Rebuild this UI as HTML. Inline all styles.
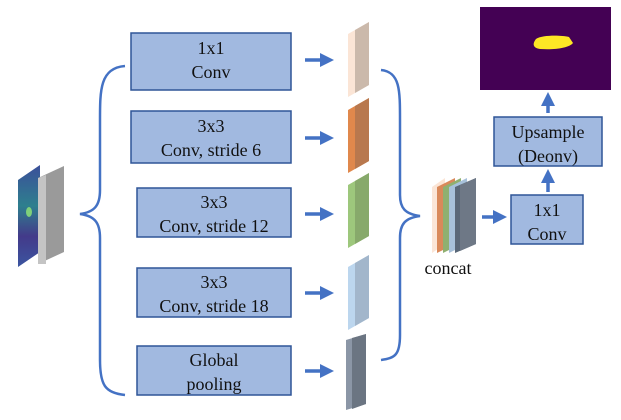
<!DOCTYPE html>
<html><head><meta charset="utf-8"><style>
html,body{margin:0;padding:0;background:#fff;width:621px;height:420px;overflow:hidden}
</style></head><body>
<svg width="621" height="420" viewBox="0 0 621 420" xmlns="http://www.w3.org/2000/svg" font-family="'Liberation Serif', 'DejaVu Serif', serif" font-size="18">
<defs>
<marker id="ah" markerWidth="4" markerHeight="4" refX="2" refY="2" orient="auto" markerUnits="strokeWidth">
<path d="M0,0 L4,2 L0,4 z" fill="#4472c4"/></marker>
<linearGradient id="fm" x1="0" y1="0" x2="0" y2="1">
<stop offset="0" stop-color="#3b4f9a"/><stop offset="0.4" stop-color="#2e7f8e"/><stop offset="0.7" stop-color="#433a8a"/><stop offset="1" stop-color="#3b55a0"/></linearGradient>
</defs>
<polygon points="18,180 40,165 40,252 18,267" fill="url(#fm)"/>
<ellipse cx="29" cy="212" rx="3" ry="5" fill="#7fd07a"/>
<polygon points="38,178 64,166 64,252 38,264" fill="#9a9a9a"/>
<polygon points="38,178 46,175 46,264 38,264" fill="#c4c4c4"/>
<path d="M125,66 C100,68 100,90 100,120 L100,190 C100,205 95,212 80,214 C95,216 100,223 100,238 L100,360 C100,385 105,393 125,395" fill="none" stroke="#4472c4" stroke-width="2.5"/>
<g fill="#a1b9e0" stroke="#2f5597" stroke-width="1.5">
<rect x="131" y="33" width="160" height="57"/>
<rect x="131" y="111" width="160" height="52"/>
<rect x="137" y="188" width="154" height="49"/>
<rect x="137" y="268" width="154" height="49"/>
<rect x="137" y="346" width="154" height="49"/>
<rect x="511" y="195" width="72" height="49"/>
<rect x="494" y="117" width="108" height="49"/>
</g>
<g fill="#111" font-family="'Liberation Serif', serif" font-size="18">
<text x="211" y="54" text-anchor="middle">1x1</text>
<text x="211" y="78" text-anchor="middle">Conv</text>
<text x="211" y="132" text-anchor="middle">3x3</text>
<text x="211" y="156" text-anchor="middle">Conv, stride 6</text>
<text x="214" y="208" text-anchor="middle">3x3</text>
<text x="214" y="232" text-anchor="middle">Conv, stride 12</text>
<text x="214" y="288" text-anchor="middle">3x3</text>
<text x="214" y="312" text-anchor="middle">Conv, stride 18</text>
<text x="214" y="366" text-anchor="middle">Global</text>
<text x="214" y="390" text-anchor="middle">pooling</text>
<text x="547" y="216" text-anchor="middle">1x1</text>
<text x="547" y="240" text-anchor="middle">Conv</text>
<text x="548" y="138" text-anchor="middle">Upsample</text>
<text x="548" y="162" text-anchor="middle">(Deonv)</text>
<text x="448" y="274" text-anchor="middle">concat</text>
</g>
<g stroke="#4472c4" stroke-width="3.5" marker-end="url(#ah)">
<line x1="305" y1="60" x2="327" y2="60"/>
<line x1="305" y1="138" x2="327" y2="138"/>
<line x1="305" y1="214" x2="327" y2="214"/>
<line x1="305" y1="293" x2="327" y2="293"/>
<line x1="305" y1="371" x2="327" y2="371"/>
<line x1="482" y1="217" x2="500" y2="217"/>
<line x1="548" y1="192" x2="548" y2="176"/>
<line x1="548" y1="113" x2="548" y2="99"/>
</g>
<g>
<polygon points="348,34 369,22 369,85 348,97" fill="#fbe5d6"/><polygon points="355,30 369,22 369,85 355,93" fill="#cbb9ab"/>
<polygon points="348,110 369,98 369,161 348,173" fill="#e0884c"/><polygon points="355,106 369,98 369,161 355,169" fill="#b8784e"/>
<polygon points="348,185 369,173 369,236 348,248" fill="#9dc77c"/><polygon points="355,181 369,173 369,236 355,244" fill="#87a96b"/>
<polygon points="348,267 369,255 369,318 348,330" fill="#bcd6ee"/><polygon points="355,263 369,255 369,318 355,326" fill="#a2b6cb"/>
<polygon points="346,340 366,334 366,404 346,410" fill="#8b96a6"/><polygon points="352,338 366,334 366,404 352,409" fill="#6b7582"/>
</g>
<path d="M381,70 C400,72 400,90 400,120 L400,195 C400,208 405,214 420,216 C405,218 400,224 400,238 L400,335 C400,355 395,358 381,360" fill="none" stroke="#4472c4" stroke-width="2.5"/>
<polygon points="432,187 445,178 445,244 432,253" fill="#fbe5d6"/>
<polygon points="437,187 455,178 455,244 437,253" fill="#d9895a"/>
<polygon points="443,187 461,178 461,244 443,253" fill="#8fb070"/>
<polygon points="449,187 467,178 467,244 449,253" fill="#a7c1da"/>
<polygon points="455,187 476,178 476,244 455,253" fill="#5a6878"/>
<polygon points="460,185 476,178 476,244 460,251" fill="#6e7886"/>
<rect x="480" y="7" width="131" height="83" fill="#440154"/>
<path d="M536,39 C542,35 560,35 569,37 L573,43 C569,48 555,50 540,49 C533,48 532,44 536,39 z" fill="#fde725"/>
</svg>
</body></html>
